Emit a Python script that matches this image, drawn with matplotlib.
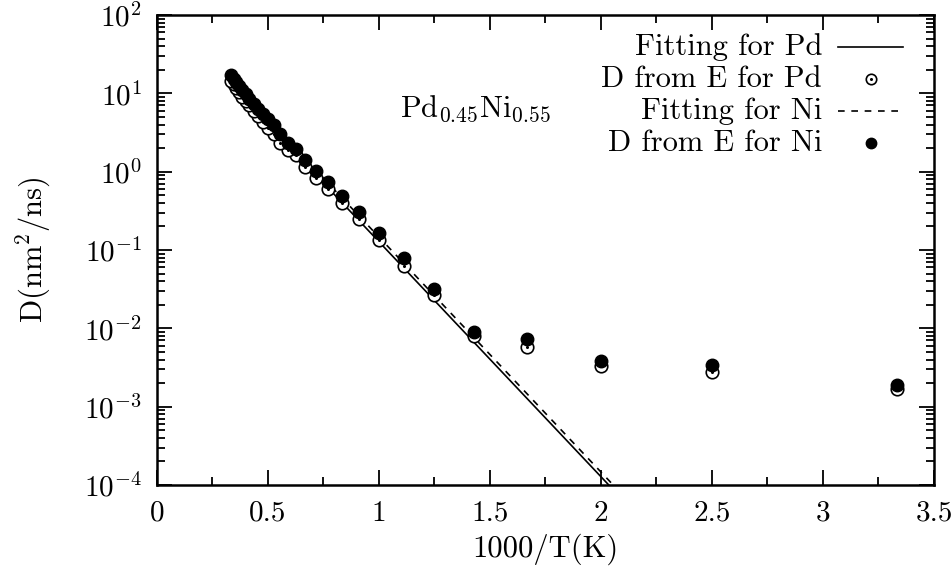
import matplotlib
matplotlib.use('Agg')
import matplotlib.pyplot as plt
from matplotlib.ticker import LogLocator, MultipleLocator, FuncFormatter, NullFormatter
import numpy as np

plt.rcParams['font.family'] = 'cmr10'
plt.rcParams['mathtext.fontset'] = 'cm'
plt.rcParams['axes.formatter.use_mathtext'] = True

# temperatures (K) and diffusion coefficients from E
temps = [300, 400, 500, 600, 700, 800, 900, 1000, 1100, 1200, 1300, 1400,
         1500, 1600, 1700, 1800, 1900, 2000, 2100, 2200, 2300, 2400, 2500,
         2600, 2700, 2800, 2900, 3000]
d_pd = [1.66e-3, 2.79e-3, 3.33e-3, 5.75e-3, 7.9e-3, 0.0265, 0.0625, 0.135,
        0.25, 0.40, 0.60, 0.83, 1.16, 1.62, 1.90, 2.35, 3.0, 3.65, 4.3,
        5.1, 6.0, 7.0, 8.0, 9.1, 10.3, 11.6, 13.0, 14.5]
d_ni = [1.89e-3, 3.40e-3, 3.85e-3, 7.3e-3, 9.1e-3, 0.0318, 0.0790, 0.166,
        0.305, 0.49, 0.74, 1.02, 1.42, 1.95, 2.30, 3.06, 3.91, 4.65, 5.4,
        6.3, 7.4, 8.4, 9.7, 10.9, 12.3, 13.8, 15.3, 17.0]

# Arrhenius fits: log10(D) = a - b * (1000/T)
fit_pd = (2.105, 3.0)
fit_ni = (2.165, 3.0)

y_major = [1e-4, 1e-3, 1e-2, 1e-1, 1e0, 1e1, 1e2]

x_data = 1000.0 / np.array(temps)

fig = plt.figure(figsize=(9.53, 5.73), dpi=100)
ax = fig.add_axes([157 / 953, 1 - 485 / 573, (934 - 157) / 953, (485 - 15) / 573])

xf = np.linspace(1000.0 / 3000, 2.3, 200)
ax.plot(xf, 10 ** (fit_pd[0] - fit_pd[1] * xf), color='black', lw=1.2)
ax.plot(xf, 10 ** (fit_ni[0] - fit_ni[1] * xf), color='black', lw=1.2,
        linestyle=(0, (4, 4)))

ms = 9
ax.plot(x_data, d_pd, linestyle='none', marker='o', ms=ms, mfc='white',
        mec='black', mew=1.2)
ax.plot(x_data, d_pd, linestyle='none', marker='o', ms=1.2, mfc='black',
        mec='black')
ax.plot(x_data, d_ni, linestyle='none', marker='o', ms=ms, mfc='black',
        mec='black')

ax.set_yscale('log')
ax.set_xlim(0, 3.5)
ax.set_ylim(1e-4, 1e2)

ax.xaxis.set_major_locator(MultipleLocator(0.5))
ax.xaxis.set_minor_locator(MultipleLocator(0.25))
ax.xaxis.set_major_formatter(FuncFormatter(lambda v, p: '%g' % v))
ax.set_yticks(y_major)
ax.yaxis.set_minor_locator(LogLocator(base=10, subs=np.arange(2, 10), numticks=20))
ax.yaxis.set_minor_formatter(NullFormatter())

ax.tick_params(which='both', direction='in', top=True, right=True,
               labelsize=21, width=1.3)
ax.tick_params(which='major', length=11)
ax.tick_params(which='minor', length=5.5)
ax.tick_params(axis='x', pad=11)
ax.tick_params(axis='y', pad=11)
for s in ax.spines.values():
    s.set_linewidth(1.8)

ax.set_xlabel('1000/T(K)', fontsize=22, labelpad=5)
ax.set_ylabel(r'$\mathrm{D(nm^2/ns)}$', fontsize=22, labelpad=22)

ax.text(1.095, 6.4, r'$\mathrm{Pd_{0.45}Ni_{0.55}}$', fontsize=22, va='center')

# key in the upper right, text right-aligned before each sample
rows = [('Fitting for Pd', 'solid'), ('D from E for Pd', 'open'),
        ('Fitting for Ni', 'dash'), ('D from E for Ni', 'filled')]
row_y = [47, 79, 111, 143]
tx = (822 - 157) / (934 - 157)
sx0 = (838 - 157) / (934 - 157)
sx1 = (903 - 157) / (934 - 157)
smid = (871 - 157) / (934 - 157)
for (label, kind), py in zip(rows, row_y):
    yy = (485 - py) / (485 - 15)
    ax.text(tx, yy, label, transform=ax.transAxes, ha='right', va='center',
            fontsize=22)
    if kind == 'solid':
        ax.plot([sx0, sx1], [yy, yy], transform=ax.transAxes, color='black', lw=1.2)
    elif kind == 'dash':
        ax.plot([sx0, sx1], [yy, yy], transform=ax.transAxes, color='black', lw=1.2,
                linestyle=(0, (4, 4)))
    elif kind == 'open':
        ax.plot([smid], [yy], transform=ax.transAxes, marker='o', ms=7.5,
                mfc='white', mec='black', mew=1.2)
        ax.plot([smid], [yy], transform=ax.transAxes, marker='o', ms=1.2,
                mfc='black', mec='black')
    else:
        ax.plot([smid], [yy], transform=ax.transAxes, marker='o', ms=7.5,
                mfc='black', mec='black')

fig.savefig('out.png', dpi=100)
